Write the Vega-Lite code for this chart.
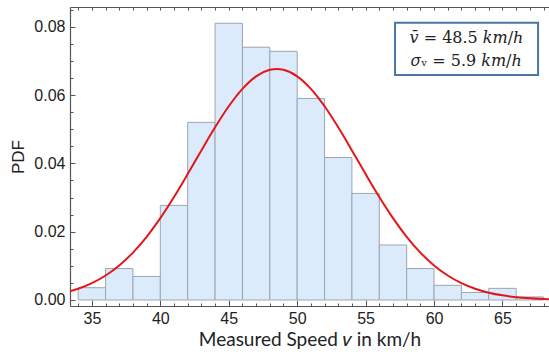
{
  "$schema": "https://vega.github.io/schema/vega-lite/v6.json",
  "width": 479,
  "height": 299,
  "autosize": {"type": "none"},
  "padding": {"left": 70, "top": 7, "right": 0, "bottom": 49},
  "background": "white",
  "config": {
    "view": {"stroke": null},
    "axis": {"grid": false, "labelFont": "Liberation Sans", "labelFontSize": 16, "labelColor": "#222222", "domainColor": "#555555", "tickColor": "#555555", "titleFontWeight": "normal", "titleColor": "#222222"}
  },
  "datasets": {
    "bins": [
      {"lo": 34, "hi": 36, "pdf": 0.0036},
      {"lo": 36, "hi": 38, "pdf": 0.0092},
      {"lo": 38, "hi": 40, "pdf": 0.0069},
      {"lo": 40, "hi": 42, "pdf": 0.0277},
      {"lo": 42, "hi": 44, "pdf": 0.052},
      {"lo": 44, "hi": 46, "pdf": 0.081},
      {"lo": 46, "hi": 48, "pdf": 0.074},
      {"lo": 48, "hi": 50, "pdf": 0.0728},
      {"lo": 50, "hi": 52, "pdf": 0.059},
      {"lo": 52, "hi": 54, "pdf": 0.0417},
      {"lo": 54, "hi": 56, "pdf": 0.0312},
      {"lo": 56, "hi": 58, "pdf": 0.0161},
      {"lo": 58, "hi": 60, "pdf": 0.0092},
      {"lo": 60, "hi": 62, "pdf": 0.0043},
      {"lo": 62, "hi": 64, "pdf": 0.0022},
      {"lo": 64, "hi": 66, "pdf": 0.0034},
      {"lo": 66, "hi": 68, "pdf": 0.0009}
    ],
    "curve": [
      {"v": 33.4, "f": 0.002557},
      {"v": 34, "f": 0.0033},
      {"v": 35, "f": 0.00493},
      {"v": 36, "f": 0.00717},
      {"v": 37, "f": 0.01012},
      {"v": 38, "f": 0.01388},
      {"v": 39, "f": 0.0185},
      {"v": 40, "f": 0.02395},
      {"v": 41, "f": 0.03014},
      {"v": 42, "f": 0.03686},
      {"v": 43, "f": 0.04379},
      {"v": 44, "f": 0.05055},
      {"v": 45, "f": 0.05671},
      {"v": 46, "f": 0.06181},
      {"v": 47, "f": 0.06547},
      {"v": 48, "f": 0.06738},
      {"v": 48.5, "f": 0.06762},
      {"v": 49, "f": 0.06738},
      {"v": 50, "f": 0.06547},
      {"v": 51, "f": 0.06181},
      {"v": 52, "f": 0.05671},
      {"v": 53, "f": 0.05055},
      {"v": 54, "f": 0.04379},
      {"v": 55, "f": 0.03686},
      {"v": 56, "f": 0.03014},
      {"v": 57, "f": 0.02395},
      {"v": 58, "f": 0.0185},
      {"v": 59, "f": 0.01388},
      {"v": 60, "f": 0.01012},
      {"v": 61, "f": 0.00717},
      {"v": 62, "f": 0.00493},
      {"v": 63, "f": 0.0033},
      {"v": 64, "f": 0.002144},
      {"v": 65, "f": 0.001355},
      {"v": 66, "f": 0.000831},
      {"v": 67, "f": 0.000496},
      {"v": 68, "f": 0.000287},
      {"v": 68.4, "f": 0.000229}
    ],
    "box": [
      {"x1": 57.15, "x2": 67.6, "y1": 0.08117, "y2": 0.06586}
    ],
    "labels": [
      {"x": 62.37, "y": 0.0767, "label": "𝑣̄ = 48.5  𝑘𝑚/ℎ"},
      {"x": 62.37, "y": 0.0700, "label": "𝜎ᵥ = 5.9 𝑘𝑚/ℎ"}
    ]
  },
  "resolve": {"axis": {"x": "independent", "y": "independent"}},
  "layer": [
    {
      "data": {"name": "bins"},
      "mark": {"type": "bar", "fill": "#dcebfb", "stroke": "#9aa6b0", "strokeWidth": 1},
      "encoding": {
        "x": {"field": "lo", "type": "quantitative", "scale": {"domain": [33.4, 68.4], "nice": false, "zero": false},
          "axis": {"orient": "bottom", "values": [35, 40, 45, 50, 55, 60, 65], "ticks": false, "labelPadding": 4, "domainWidth": 1.2,
            "title": "Measured Speed 𝑣 in km/h", "titleFont": "Lato", "titleFontSize": 19, "titlePadding": 4}},
        "x2": {"field": "hi"},
        "y": {"field": "pdf", "type": "quantitative", "scale": {"domain": [-0.00176, 0.08577], "nice": false, "zero": false},
          "axis": {"orient": "left", "values": [0, 0.02, 0.04, 0.06, 0.08], "format": ".2f", "ticks": false, "labelPadding": 5, "domainWidth": 1.2,
            "title": "PDF", "titleFont": "Liberation Sans", "titleFontSize": 17, "titlePadding": 6}},
        "y2": {"datum": 0}
      }
    },
    {
      "data": {"name": "curve"},
      "mark": {"type": "line", "color": "#e4161b", "strokeWidth": 2, "interpolate": "monotone", "clip": true},
      "encoding": {
        "x": {"field": "v", "type": "quantitative", "scale": {"domain": [33.4, 68.4], "nice": false, "zero": false},
          "axis": {"orient": "bottom", "values": [34,35,36,37,38,39,40,41,42,43,44,45,46,47,48,49,50,51,52,53,54,55,56,57,58,59,60,61,62,63,64,65,66,67,68], "tickSize": -3, "labels": false, "domain": false, "title": null}},
        "y": {"field": "f", "type": "quantitative", "scale": {"domain": [-0.00176, 0.08577], "nice": false, "zero": false},
          "axis": {"orient": "left", "values": [0, 0.005, 0.01, 0.015, 0.02, 0.025, 0.03, 0.035, 0.04, 0.045, 0.05, 0.055, 0.06, 0.065, 0.07, 0.075, 0.08, 0.085], "tickSize": -3, "labels": false, "domain": false, "title": null}}
      }
    },
    {
      "data": {"name": "box"},
      "mark": {"type": "rect", "fill": "white", "stroke": "#4a74a6", "strokeWidth": 2},
      "encoding": {
        "x": {"field": "x1", "type": "quantitative", "scale": {"domain": [33.4, 68.4], "nice": false, "zero": false},
          "axis": {"orient": "top", "values": [34,35,36,37,38,39,40,41,42,43,44,45,46,47,48,49,50,51,52,53,54,55,56,57,58,59,60,61,62,63,64,65,66,67,68], "tickSize": -3, "labels": false, "domain": true, "domainWidth": 1.2, "title": null}},
        "x2": {"field": "x2"},
        "y": {"field": "y1", "type": "quantitative", "scale": {"domain": [-0.00176, 0.08577], "nice": false, "zero": false},
          "axis": {"orient": "left", "values": [0, 0.02, 0.04, 0.06, 0.08], "tickSize": -5, "labels": false, "domain": false, "title": null}},
        "y2": {"field": "y2"}
      }
    },
    {
      "data": {"name": "labels"},
      "mark": {"type": "text", "font": "DejaVu Serif", "fontSize": 16, "color": "#222222", "align": "center", "baseline": "middle"},
      "encoding": {
        "x": {"field": "x", "type": "quantitative", "scale": {"domain": [33.4, 68.4], "nice": false, "zero": false},
          "axis": {"orient": "bottom", "values": [35, 40, 45, 50, 55, 60, 65], "tickSize": -6, "labels": false, "domain": false, "title": null}},
        "y": {"field": "y", "type": "quantitative", "scale": {"domain": [-0.00176, 0.08577], "nice": false, "zero": false}, "axis": null},
        "text": {"field": "label"}
      }
    }
  ]
}
